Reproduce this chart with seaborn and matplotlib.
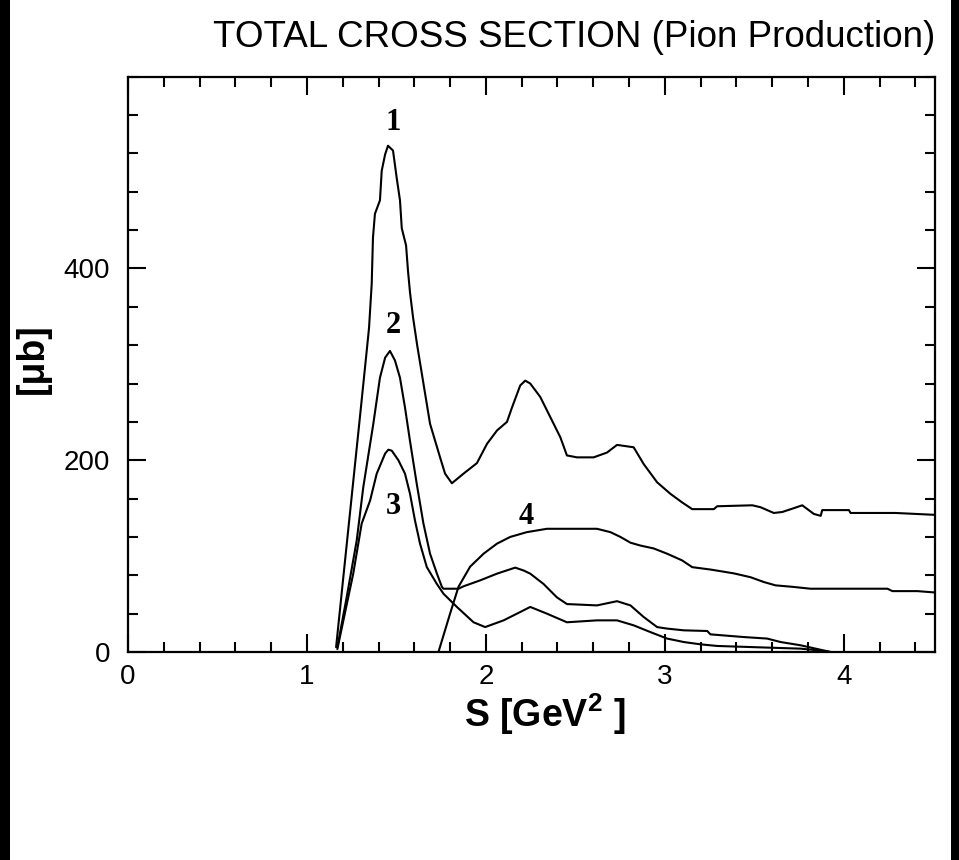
import matplotlib
matplotlib.use("Agg")
import matplotlib.pyplot as plt
import seaborn as sns
import pandas as pd
from matplotlib.ticker import MultipleLocator
from matplotlib.patches import Rectangle

# ---------------- data ----------------
x1 = [1.163, 1.20, 1.25, 1.30, 1.334, 1.347, 1.362, 1.369, 1.380, 1.408, 1.418, 1.437, 1.453,
      1.481, 1.502, 1.520, 1.530, 1.554, 1.565, 1.576, 1.593, 1.616, 1.688, 1.744, 1.772, 1.810,
      1.875, 1.950, 2.006, 2.062, 2.118, 2.146, 2.192, 2.220, 2.248, 2.304, 2.360, 2.416, 2.453,
      2.509, 2.602, 2.677, 2.733, 2.826, 2.882, 2.957, 3.031, 3.097, 3.153, 3.274, 3.293, 3.489,
      3.535, 3.609, 3.656, 3.721, 3.768, 3.833, 3.871, 3.880, 4.029, 4.038, 4.290, 4.514]
y1 = [5, 72, 162, 252, 314, 338, 384, 432, 457, 471, 502, 519, 528,
      523, 494, 471, 442, 424, 397, 375, 349, 320, 238, 203, 186, 176,
      186, 197, 217, 231, 240, 255, 278, 283, 280, 266, 245, 224, 205,
      203, 203, 208, 216, 213.5, 196, 177, 165, 156, 149, 149, 152, 153,
      151, 145, 146, 150, 153, 144, 142, 148, 148, 145, 145, 143]

x2 = [1.170, 1.22, 1.278, 1.315, 1.371, 1.408, 1.437, 1.464, 1.492, 1.520, 1.548, 1.576, 1.614,
      1.651, 1.688, 1.726, 1.754,
      1.763, 1.847, 1.875, 1.968, 2.062, 2.164, 2.211, 2.248, 2.322, 2.397, 2.453, 2.621, 2.733,
      2.808, 2.882, 2.957, 3.013, 3.106, 3.237, 3.255, 3.441, 3.572, 3.647, 3.759, 3.833, 3.927]
y2 = [5, 55, 116, 172, 238, 286, 307, 314, 304, 286, 255, 220, 175,
      134, 102.5, 82, 68,
      66, 66, 68.5, 74.7, 81.7, 88, 85, 81.7, 71, 57, 50, 48.6, 53,
      48.6, 36.5, 26, 24.4, 22.6, 21.9, 18.4, 15.6, 14, 10.4, 7, 3.9, 0]

x3 = [1.170, 1.259, 1.306, 1.353, 1.390, 1.437, 1.455, 1.474, 1.511, 1.548, 1.576, 1.604, 1.632,
      1.670, 1.726,
      1.763, 1.838, 1.931, 1.996, 2.099, 2.192, 2.248, 2.341, 2.453, 2.621, 2.733, 2.826, 2.919,
      3.013, 3.106, 3.199, 3.293, 3.572, 3.759, 3.852, 3.927]
y3 = [3, 82, 134, 158, 186, 207, 211, 210, 200, 186, 165, 137, 113,
      88.5, 71,
      60.8, 47, 31, 26, 33, 41.7, 47, 40, 31, 33, 33, 27.8, 20.8,
      14, 10.4, 8, 6.3, 4.6, 3.5, 1.8, 0]

x4 = [1.735, 1.800, 1.847, 1.912, 1.987, 2.062, 2.136, 2.229, 2.341, 2.621, 2.696, 2.752, 2.808,
      2.864, 2.938, 3.013, 3.097, 3.153, 3.255, 3.386, 3.479, 3.553, 3.619, 3.712, 3.814, 4.244,
      4.272, 4.412, 4.514]
y4 = [0, 40, 68, 89, 102.5, 113, 120, 125, 128.5, 128.5, 125, 120, 114,
      111, 108, 102.5, 95.5, 88.5, 86, 82, 78, 73, 69.5, 68, 66, 66,
      63.5, 63.5, 62]

curve_names = ["1", "2", "3", "4"]
label_x = [1.483, 1.483, 1.483, 2.227]
label_y = [552, 341, 152, 141]

x_major = [0, 1, 2, 3, 4]
y_major = [0, 200, 400]

title = "TOTAL CROSS SECTION (Pion Production)"
xlabel = r"S [GeV$^{2}$ ]"
ylabel = "[\u03bcb]"

# ---------------- plot ----------------
sns.set_style("ticks")
plt.rcParams["font.family"] = ["Liberation Sans", "DejaVu Sans"]
plt.rcParams["mathtext.fontset"] = "custom"
plt.rcParams["mathtext.rm"] = "Liberation Sans:bold"
plt.rcParams["mathtext.default"] = "rm"
for key in ["text.color", "axes.labelcolor", "xtick.color", "ytick.color",
            "xtick.labelcolor", "ytick.labelcolor"]:
    plt.rcParams[key] = "black"

fig = plt.figure(figsize=(9.59, 8.60), dpi=100)
fig.patch.set_facecolor("white")
ax = fig.add_axes([128 / 959, 1 - 652 / 860, (935 - 128) / 959, (652 - 76.7) / 860])

frames = []
for name, xs, ys in zip(curve_names, [x1, x2, x3, x4], [y1, y2, y3, y4]):
    frames.append(pd.DataFrame({"S": xs, "sigma": ys, "curve": name}))
df = pd.concat(frames, ignore_index=True)

for name in curve_names:
    sub = df[df["curve"] == name]
    sns.lineplot(data=sub, x="S", y="sigma", ax=ax, color="black", lw=1.5,
                 sort=False, estimator=None, legend=False)

for name, lx, ly in zip(curve_names, label_x, label_y):
    ax.text(lx, ly, name, ha="center", va="center", fontsize=22, fontweight="bold",
            family=["Liberation Serif", "DejaVu Serif"], color="black")

ax.set_xlim(0, 4.51)
ax.set_ylim(0, 600)
ax.set_xticks(x_major)
ax.set_yticks(y_major)
ax.xaxis.set_minor_locator(MultipleLocator(0.2))
ax.yaxis.set_minor_locator(MultipleLocator(40))
ax.tick_params(which="both", direction="in", top=True, right=True, color="black", width=1.5)
ax.tick_params(which="major", length=13, labelsize=20, pad=9)
ax.tick_params(which="minor", length=7.5)
ax.tick_params(axis="y", which="major", pad=13)
for sp in ax.spines.values():
    sp.set_visible(True)
    sp.set_linewidth(1.6)
    sp.set_color("black")
ax.set_xlabel("")
ax.set_ylabel("")

fig.text(574.5 / 959, 1 - 47 / 860, title, ha="center", va="baseline", fontsize=26.5)
fig.text(545 / 959, 1 - 727 / 860, xlabel, ha="center", va="baseline", fontsize=27,
         fontweight="bold")
fig.text(33 / 959, 1 - 359 / 860, ylabel, ha="center", va="center", rotation=90,
         fontsize=27, fontweight="bold")

# black frame strips at the left and right edges of the image
fig.patches.append(Rectangle((0, 0), 10 / 959, 1, transform=fig.transFigure,
                             facecolor="black", edgecolor="none", zorder=-1))
fig.patches.append(Rectangle((951 / 959, 0), 8 / 959, 1, transform=fig.transFigure,
                             facecolor="black", edgecolor="none", zorder=-1))

fig.savefig("out.png", dpi=100, facecolor="white")
